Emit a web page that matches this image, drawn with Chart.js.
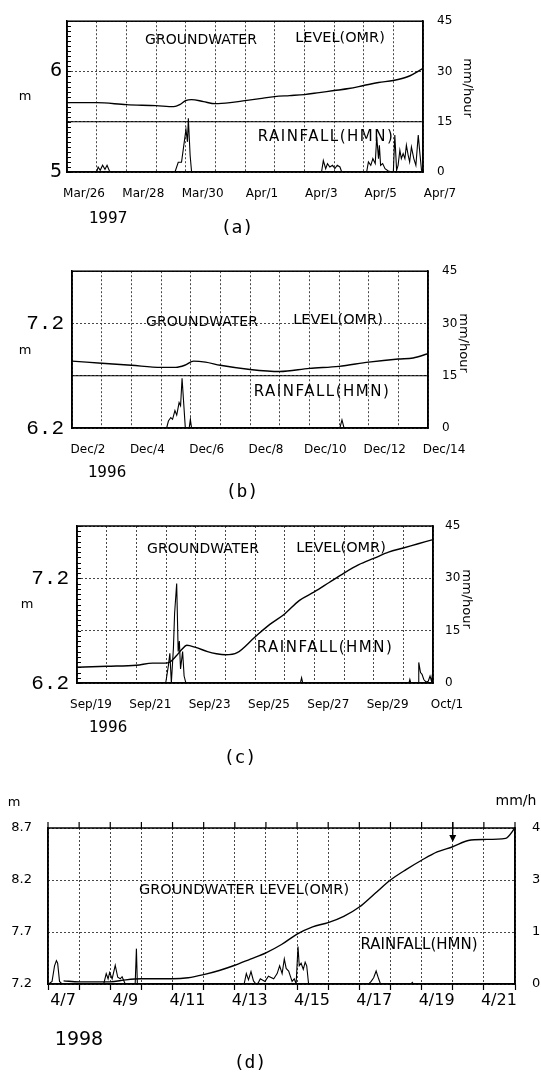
<!DOCTYPE html>
<html>
<head>
<meta charset="utf-8">
<script src="https://cdn.jsdelivr.net/npm/chart.js@4.4.1/dist/chart.umd.min.js"></script>
<style>
  html, body { margin: 0; padding: 0; background: #fff; }
  #page { position: relative; width: 541px; height: 1073px; overflow: hidden; }
  canvas { position: absolute; left: 0; }
</style>
</head>
<body>
<div id="page">
  <canvas id="chartA" width="541" height="250" style="top:0px"></canvas>
  <canvas id="chartB" width="541" height="258" style="top:250px"></canvas>
  <canvas id="chartC" width="541" height="280" style="top:500px"></canvas>
  <canvas id="chartD" width="541" height="293" style="top:780px"></canvas>
</div>
<script>
// shared tick labels of the rainfall axis (a)-(c)
const rainTicks = [0, 15, 30, 45];
const rainLabels = ['0', '15', '30', '45'];

// ---- (a) 1997, Mar/26 .. Apr/7 (x = days from Mar/26) ----
const xLabelsA = ['Mar/26', 'Mar/28', 'Mar/30', 'Apr/1', 'Apr/3', 'Apr/5', 'Apr/7'];
const levelTicksA = [5, 6];
const levelLabelsA = ['5', '6'];
const gwDaysA = [0, 1, 2, 3, 3.6, 3.8, 4.0, 4.2, 4.6, 5.0, 5.5, 6.0, 6.5, 7.0, 7.5, 8.0, 8.5, 9.0, 9.5, 10.0, 10.5, 11.0, 11.5, 12];
const gwLevelA = [5.69, 5.69, 5.67, 5.66, 5.65, 5.67, 5.71, 5.72, 5.70, 5.68, 5.69, 5.71, 5.73, 5.75, 5.76, 5.77, 5.79, 5.81, 5.83, 5.86, 5.89, 5.91, 5.95, 6.03];
const rainDaysA = [1.0, 1.05, 1.12, 1.2, 1.28, 1.35, 1.42, 1.46,
  3.64, 3.75, 3.86, 4.01, 4.06, 4.09, 4.15, 4.2,
  8.58, 8.64, 8.72, 8.78, 8.86, 8.95, 9.03, 9.11, 9.2, 9.26,
  10.1, 10.16, 10.24, 10.31, 10.39, 10.44, 10.5, 10.53, 10.57, 10.64, 10.72, 10.83, 10.95,
  11.0, 11.05, 11.11, 11.16, 11.22, 11.27, 11.33, 11.39, 11.44, 11.5, 11.55, 11.61, 11.69, 11.76, 11.84, 11.89, 11.95, 12];
const rainA = [0, 1.5, 0.5, 2, 0.8, 2, 0.5, 0,
  0, 2.9, 2.9, 12.7, 9, 16, 5, 0,
  0, 3.4, 1, 2.5, 1.5, 2, 1, 2, 1.5, 0,
  0, 3, 2, 4, 2.5, 10.5, 4, 8, 2, 2.5, 1, 0.3, 0,
  0, 11, 0.5, 2, 6.5, 4, 5.5, 4, 8, 5, 3, 7.5, 4, 2, 11, 6, 0.5, 0];

// ---- (b) 1996, Dec/2 .. Dec/14 ----
const xLabelsB = ['Dec/2', 'Dec/4', 'Dec/6', 'Dec/8', 'Dec/10', 'Dec/12', 'Dec/14'];
const levelTicksB = [6.2, 7.2];
const levelLabelsB = ['6.2', '7.2'];
const gwDaysB = [0, 1, 2, 3, 3.5, 3.8, 4.1, 4.5, 5, 6, 7, 8, 9, 10, 11, 11.5, 12];
const gwLevelB = [6.84, 6.82, 6.80, 6.78, 6.78, 6.80, 6.84, 6.83, 6.80, 6.76, 6.74, 6.77, 6.79, 6.83, 6.86, 6.87, 6.91];
const rainDaysB = [3.19, 3.25, 3.33, 3.39, 3.47, 3.53, 3.61, 3.66, 3.71, 3.82, 3.95, 3.99, 4.03, 9.03, 9.1, 9.17];
const rainB = [0, 2, 3, 2.5, 5, 3.7, 7.3, 6.4, 14.3, 0, 0, 2.5, 0, 0, 2.3, 0];

// ---- (c) 1996, Sep/19 .. Oct/1 ----
const xLabelsC = ['Sep/19', 'Sep/21', 'Sep/23', 'Sep/25', 'Sep/27', 'Sep/29', 'Oct/1'];
const levelTicksC = [6.2, 7.2];
const levelLabelsC = ['6.2', '7.2'];
const gwDaysC = [0, 1, 2, 2.55, 2.96, 3.13, 3.35, 3.53, 3.7, 4.0, 4.4, 4.7, 5.0, 5.4, 6.0, 6.5, 7.0, 7.5, 8.0, 8.5, 9.0, 9.5, 10.0, 10.5, 11.0, 11.5, 12];
const gwLevelC = [6.35, 6.36, 6.37, 6.39, 6.39, 6.40, 6.46, 6.52, 6.56, 6.54, 6.50, 6.48, 6.47, 6.49, 6.64, 6.76, 6.86, 6.99, 7.07, 7.16, 7.25, 7.33, 7.39, 7.45, 7.49, 7.53, 7.57];
const rainDaysC = [2.99, 3.08, 3.13, 3.18, 3.25, 3.29, 3.36, 3.41, 3.45, 3.49, 3.56, 3.61, 3.67,
  7.53, 7.57, 7.61, 11.19, 11.22, 11.25,
  11.5, 11.52, 11.58, 11.63, 11.69, 11.76, 11.84, 11.9, 11.95, 11.98, 12];
const rainC = [0, 5, 8.5, 0, 10, 20, 28.5, 9, 12, 4, 9, 2, 0,
  0, 1.5, 0, 0, 1, 0,
  0, 5.9, 3, 2.5, 1, 0.3, 0.5, 2, 0.5, 2.5, 0];

// ---- (d) 1998, 4/7 .. 4/22 ----
const xLabelsD = ['4/7', '4/9', '4/11', '4/13', '4/15', '4/17', '4/19', '4/21'];
const levelTicksD = [7.2, 7.7, 8.2, 8.7];
const levelLabelsD = ['7.2', '7.7', '8.2', '8.7'];
const rainTicksD = [0, 1, 2, 3];
const rainLabelsD = ['0', '1', '3', '4'];
const gwDaysD = [0.5, 1, 2, 2.5, 3, 4, 4.5, 5, 5.5, 6, 6.5, 7, 7.5, 8, 8.5, 9, 9.5, 10, 10.5, 11, 11.5, 12, 12.5, 13, 13.5, 14, 14.7, 15];
const gwLevelD = [7.23, 7.22, 7.22, 7.24, 7.25, 7.25, 7.26, 7.29, 7.33, 7.38, 7.44, 7.50, 7.58, 7.68, 7.75, 7.79, 7.85, 7.94, 8.07, 8.20, 8.30, 8.39, 8.47, 8.52, 8.58, 8.59, 8.60, 8.70];
const rainDaysD = [0.02, 0.13, 0.21, 0.27, 0.31, 0.37, 0.45,
  1.79, 1.87, 1.93, 1.98, 2.06, 2.16, 2.24, 2.32, 2.38, 2.48,
  2.8, 2.84, 2.87,
  6.3, 6.37, 6.44, 6.52, 6.6, 6.68,
  6.75, 6.82, 6.97, 7.08, 7.25, 7.36, 7.44, 7.52, 7.59, 7.65, 7.73, 7.84, 7.91, 7.97, 8.03, 8.07, 8.13, 8.2, 8.26, 8.31, 8.37,
  10.3, 10.38, 10.46, 10.54, 10.62, 10.68,
  11.66, 11.7, 11.74];
const rainD = [0, 0.05, 0.35, 0.45, 0.4, 0.05, 0,
  0, 0.2, 0.1, 0.22, 0.1, 0.36, 0.13, 0.1, 0.14, 0,
  0, 0.68, 0,
  0, 0.2, 0.08, 0.24, 0.06, 0,
  0.02, 0.1, 0.05, 0.15, 0.1, 0.2, 0.35, 0.2, 0.48, 0.3, 0.25, 0.05, 0.1, 0, 0.72, 0.35, 0.4, 0.28, 0.42, 0.35, 0,
  0, 0.05, 0.12, 0.25, 0.1, 0,
  0, 0.03, 0];
const arrowD = { day: 13, level: 8.565 };

const SANS = "'DejaVu Sans', sans-serif";
const MONO = "'Liberation Mono', monospace";
const SMONO = "'DejaVu Sans Mono', monospace";
const GRID = '#333';

function toXY(xs, ys) {
  return xs.map((x, i) => ({ x: x, y: ys[i] }));
}

// frame, extra lines, notes drawn on top of each chart
function decor(p) {
  return {
    id: 'decor',
    afterDraw(chart) {
      const { ctx, chartArea: a, scales } = chart;
      ctx.save();
      ctx.strokeStyle = '#000';
      ctx.lineWidth = 1.2;
      (p.solidLines || []).forEach(v => {
        const y = scales.yR.getPixelForValue(v);
        ctx.beginPath(); ctx.moveTo(a.left, y); ctx.lineTo(a.right, y); ctx.stroke();
      });
      ctx.lineWidth = 1.5;
      ctx.strokeRect(a.left, a.top, a.right - a.left, a.bottom - a.top);
      if (p.minorStep) {
        ctx.lineWidth = 1;
        const yl = scales.yL;
        for (let v = yl.min; v <= yl.max + 1e-9; v += p.minorStep) {
          const y = Math.round(yl.getPixelForValue(v)) + 0.5;
          ctx.beginPath(); ctx.moveTo(a.left, y); ctx.lineTo(a.left + 4, y); ctx.stroke();
        }
      }
      if (p.topTicks) {
        ctx.lineWidth = 1.2;
        scales.x.ticks.forEach(t => {
          const x = scales.x.getPixelForValue(t.value);
          ctx.beginPath(); ctx.moveTo(x, a.top - p.topTicks); ctx.lineTo(x, a.top); ctx.stroke();
        });
      }
      if (p.arrow) {
        const x = scales.x.getPixelForValue(p.arrow.day);
        const y = scales.yL.getPixelForValue(p.arrow.level);
        ctx.lineWidth = 1.3;
        ctx.beginPath(); ctx.moveTo(x, y - 20); ctx.lineTo(x, y - 3); ctx.stroke();
        ctx.fillStyle = '#000';
        ctx.beginPath(); ctx.moveTo(x - 3.5, y - 7); ctx.lineTo(x + 3.5, y - 7); ctx.lineTo(x, y); ctx.closePath(); ctx.fill();
      }
      ctx.fillStyle = '#000';
      ctx.textAlign = 'center';
      ctx.textBaseline = 'middle';
      p.notes.forEach(n => {
        ctx.save();
        ctx.font = n.font;
        if ('letterSpacing' in ctx) ctx.letterSpacing = n.ls || '0px';
        ctx.translate(n.x, n.y);
        if (n.rot) ctx.rotate(n.rot);
        ctx.fillText(n.t, 0, 0);
        ctx.restore();
      });
      ctx.restore();
    }
  };
}

function panel(p) {
  const canvas = document.getElementById(p.id);
  const W = canvas.width, H = canvas.height;
  return new Chart(canvas.getContext('2d'), {
    type: 'line',
    data: {
      datasets: [
        {
          data: toXY(p.gwDays, p.gw), yAxisID: 'yL',
          borderColor: '#000', borderWidth: 1.4, pointRadius: 0,
          cubicInterpolationMode: 'monotone'
        },
        {
          data: toXY(p.rainDays, p.rain), yAxisID: 'yR',
          borderColor: '#000', borderWidth: 1.1, pointRadius: 0, tension: 0
        }
      ]
    },
    options: {
      responsive: false,
      animation: false,
      devicePixelRatio: 1,
      layout: { padding: { top: p.top, left: 0, right: 0, bottom: 0 } },
      plugins: { legend: { display: false }, tooltip: { enabled: false } },
      scales: {
        x: {
          type: 'linear', min: 0, max: p.days,
          afterFit: s => { s.height = H - p.bottom; },
          ticks: {
            stepSize: 1, autoSkip: false, maxRotation: 0, minRotation: 0,
            labelOffset: p.labelOffset, padding: p.xPad, color: '#000',
            font: { family: SANS, size: p.xSize },
            callback: v => (v % 2 === 0 ? (p.xLabels[v / 2] ?? '') : '')
          },
          grid: {
            color: GRID, lineWidth: 0.9,
            drawTicks: p.xTickLen > 0, tickLength: p.xTickLen,
            tickColor: '#000', tickWidth: 1.2, tickBorderDash: []
          },
          border: { display: true, color: '#000', width: 1.5, dash: [2, 2] }
        },
        yL: {
          position: 'left', min: p.lMin, max: p.lMax,
          afterBuildTicks: s => { s.ticks = p.lTicks.map(v => ({ value: v })); },
          afterFit: s => { s.width = p.left; },
          ticks: {
            padding: p.lPad, color: '#000', font: p.lFont,
            callback: (v, i) => p.lLabels[i]
          },
          grid: { drawOnChartArea: false, drawTicks: false },
          border: { display: true, color: '#000', width: 1.5 }
        },
        yR: {
          position: 'right', min: 0, max: p.rMax,
          afterBuildTicks: s => { s.ticks = p.rTicks.map(v => ({ value: v })); },
          afterFit: s => { s.width = W - p.right; },
          ticks: {
            padding: p.rPad, color: '#000', font: p.rFont,
            callback: (v, i) => p.rLabels[i]
          },
          grid: { drawOnChartArea: true, drawTicks: false, color: GRID, lineWidth: 0.9 },
          border: { display: true, color: '#000', width: 1.5, dash: [2, 2] }
        }
      }
    },
    plugins: [decor(p)]
  });
}

const inFont = '14px ' + SANS;
const rainFont = '15px ' + SANS;

panel({
  id: 'chartA', days: 12, xLabels: xLabelsA, top: 18, bottom: 172, left: 67, right: 423,
  lMin: 5, lMax: 6.5, lTicks: levelTicksA, lLabels: levelLabelsA, lFont: { family: SANS, size: 19 }, lPad: 5,
  rMax: 45, rTicks: rainTicks, rLabels: rainLabels, rFont: { family: SANS, size: 12 }, rPad: 14,
  xSize: 12, xPad: 15, labelOffset: 17, xTickLen: 0,
  gwDays: gwDaysA, gw: gwLevelA, rainDays: rainDaysA, rain: rainA, minorStep: 0.05, solidLines: [15],
  notes: [
    { t: 'GROUNDWATER', x: 201, y: 40, font: inFont },
    { t: 'LEVEL(OMR)', x: 340, y: 38, font: '14.5px ' + SANS },
    { t: 'RAINFALL(HMN)', x: 326, y: 137, font: rainFont, ls: '1.5px' },
    { t: 'm', x: 25, y: 97, font: '13px ' + SANS },
    { t: 'mm/hour', x: 467, y: 88, font: '13px ' + SANS, rot: Math.PI / 2 },
    { t: '1997', x: 108, y: 219, font: '16px ' + SMONO },
    { t: '(a)', x: 237, y: 228, font: '18px ' + SMONO }
  ]
});

panel({
  id: 'chartB', days: 12, xLabels: xLabelsB, top: 20, bottom: 178, left: 72, right: 428,
  lMin: 6.2, lMax: 7.7, lTicks: levelTicksB, lLabels: levelLabelsB, lFont: { family: MONO, size: 21 }, lPad: 8,
  rMax: 45, rTicks: rainTicks, rLabels: rainLabels, rFont: { family: SANS, size: 12 }, rPad: 14,
  xSize: 12, xPad: 15, labelOffset: 16, xTickLen: 0,
  gwDays: gwDaysB, gw: gwLevelB, rainDays: rainDaysB, rain: rainB, solidLines: [15],
  notes: [
    { t: 'GROUNDWATER', x: 202, y: 72, font: inFont },
    { t: 'LEVEL(OMR)', x: 338, y: 70, font: '14.5px ' + SANS },
    { t: 'RAINFALL(HMN)', x: 322, y: 142, font: rainFont, ls: '1.5px' },
    { t: 'm', x: 25, y: 101, font: '13px ' + SANS },
    { t: 'mm/hour', x: 463, y: 93, font: '13px ' + SANS, rot: Math.PI / 2 },
    { t: '1996', x: 107, y: 223, font: '16px ' + SMONO },
    { t: '(b)', x: 242, y: 242, font: '18px ' + SMONO }
  ]
});

panel({
  id: 'chartC', days: 12, xLabels: xLabelsC, top: 26, bottom: 183, left: 77, right: 433,
  lMin: 6.2, lMax: 7.7, lTicks: levelTicksC, lLabels: levelLabelsC, lFont: { family: MONO, size: 21 }, lPad: 8,
  rMax: 45, rTicks: rainTicks, rLabels: rainLabels, rFont: { family: SANS, size: 12 }, rPad: 12,
  xSize: 12, xPad: 15, labelOffset: 14, xTickLen: 0,
  gwDays: gwDaysC, gw: gwLevelC, rainDays: rainDaysC, rain: rainC, minorStep: 0.05,
  notes: [
    { t: 'GROUNDWATER', x: 203, y: 49, font: inFont },
    { t: 'LEVEL(OMR)', x: 341, y: 48, font: '14.5px ' + SANS },
    { t: 'RAINFALL(HMN)', x: 325, y: 148, font: rainFont, ls: '1.5px' },
    { t: 'm', x: 27, y: 105, font: '13px ' + SANS },
    { t: 'mm/hour', x: 466, y: 99, font: '13px ' + SANS, rot: Math.PI / 2 },
    { t: '1996', x: 108, y: 228, font: '16px ' + SMONO },
    { t: '(c)', x: 240, y: 258, font: '18px ' + SMONO }
  ]
});

panel({
  id: 'chartD', days: 15, xLabels: xLabelsD, top: 48, bottom: 204, left: 48, right: 515,
  lMin: 7.2, lMax: 8.7, lTicks: levelTicksD, lLabels: levelLabelsD, lFont: { family: SANS, size: 13 }, lPad: 16,
  rMax: 3, rTicks: rainTicksD, rLabels: rainLabelsD, rFont: { family: SANS, size: 13 }, rPad: 17,
  xSize: 16, xPad: 1, labelOffset: 15, xTickLen: 6,
  gwDays: gwDaysD, gw: gwLevelD, rainDays: rainDaysD, rain: rainD, topTicks: 6, arrow: arrowD,
  notes: [
    { t: 'GROUNDWATER LEVEL(OMR)', x: 244, y: 110, font: '14.5px ' + SANS },
    { t: 'RAINFALL(HMN)', x: 419, y: 165, font: rainFont },
    { t: 'm', x: 14, y: 23, font: '13px ' + SANS },
    { t: 'mm/h', x: 516, y: 21, font: '14px ' + SANS },
    { t: '1998', x: 79, y: 260, font: '19px ' + SANS },
    { t: '(d)', x: 250, y: 283, font: '18px ' + SMONO }
  ]
});
</script>
</body>
</html>
